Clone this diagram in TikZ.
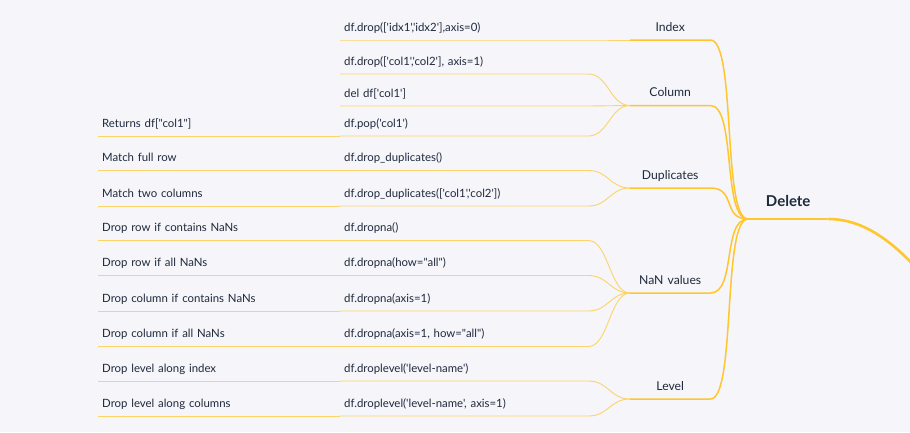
\documentclass[tikz,border=0pt]{standalone}
\usepackage{fontspec}
\setmainfont{Lato}[Ligatures=TeXOff]
\usetikzlibrary{positioning,calc}
\definecolor{bgcol}{HTML}{F5F5FA}
\definecolor{ink}{HTML}{1F2A3C}
\definecolor{gold}{HTML}{FFC62E}
\definecolor{pale}{HTML}{FDD468}

\begin{document}
\begin{tikzpicture}[x=1pt,y=-1pt,
		font=\fontsize{11.4}{13}\selectfont, text=ink,
		code/.style={anchor=south west, text width=240pt, inner xsep=4pt, inner ysep=8.5pt, text depth=0pt, align=left},
		note/.style={code, text width=234pt},
		topic/.style={anchor=south west, text width=80pt, inner xsep=0pt, inner ysep=8.5pt, text depth=0pt, align=center, font=\fontsize{12.2}{14}\selectfont},
		twig/.style={draw=pale, line width=0.9pt},
		branch/.style={draw=gold, line width=1.5pt},
		trunk/.style={draw=gold, line width=2.6pt}]
		\fill[bgcol] (0,0) rectangle (910,432);
		\useasboundingbox (0,0) rectangle (910,432);
		\clip (0,0) rectangle (910,432);

		\node[anchor=south west, text width=80pt, inner xsep=0pt, inner ysep=12.5pt, text depth=0pt, align=center, font=\bfseries\fontsize{15}{17}\selectfont] (root) at (748,219) {Delete};
		\coordinate (up) at (965,330);

		\node[topic] (index) at (630,40) {Index};
		\node[topic] (column) at (630,105.5) {Column};
		\node[topic] (dups) at (630,188) {Duplicates};
		\node[topic] (nans) at (630,293) {NaN values};
		\node[topic] (level) at (630,399) {Level};

		\node[code] (i1) at (340,40) {df.drop(['idx1','idx2'],axis=0)};
		\node[code] (c1) at (340,74) {df.drop(['col1','col2'], axis=1)};
		\node[code] (c2) at (340,106) {del df['col1']};
		\node[code] (c3) at (340,136) {df.pop('col1')};
		\node[code] (d1) at (340,170.5) {df.drop\_duplicates()};
		\node[code] (d2) at (340,206) {df.drop\_duplicates(['col1','col2'])};
		\node[code] (n1) at (340,240.5) {df.dropna()};
		\node[code] (n2) at (340,275.5) {df.dropna(how="all")};
		\node[code] (n3) at (340,311) {df.dropna(axis=1)};
		\node[code] (n4) at (340,346.5) {df.dropna(axis=1, how="all")};
		\node[code] (l1) at (340,381) {df.droplevel('level-name')};
		\node[code] (l2) at (340,416) {df.droplevel('level-name', axis=1)};

		\node[note] (c3x) at (98,136) {Returns df["col1"]};
		\node[note] (d1x) at (98,170.5) {Match full row};
		\node[note] (d2x) at (98,206) {Match two columns};
		\node[note] (n1x) at (98,240.5) {Drop row if contains NaNs};
		\node[note] (n2x) at (98,275.5) {Drop row if all NaNs};
		\node[note] (n3x) at (98,311) {Drop column if contains NaNs};
		\node[note] (n4x) at (98,346.5) {Drop column if all NaNs};
		\node[note] (l1x) at (98,381) {Drop level along index};
		\node[note] (l2x) at (98,416) {Drop level along columns};

		% leaves
		\foreach \a in {c3,d1,d2,n1,n2,n3,n4,l1,l2}
			\draw[twig] (\a x.south west) -- (\a.south west);
		\foreach \a/\b in {i1/index,c1/column,c2/column,c3/column,d1/dups,d2/dups,n1/nans,n2/nans,n3/nans,n4/nans,l1/level,l2/level}
			\draw[twig] (\a.south west) -- (\a.south east) .. controls +(20,0) and +(-20,0) .. (\b.south west);

		% branches
		\foreach \t in {index,column,dups,nans,level}
			\draw[branch] (\t.south west) -- (\t.south east) .. controls +(26,0) and +(-26,0) .. (root.south west);
		\draw[branch] (root.south west) -- (root.south east);
		\draw[trunk] (root.south east) .. controls +(55,0) and +(-40,-55) .. (up);
	\end{tikzpicture}
\end{document}
